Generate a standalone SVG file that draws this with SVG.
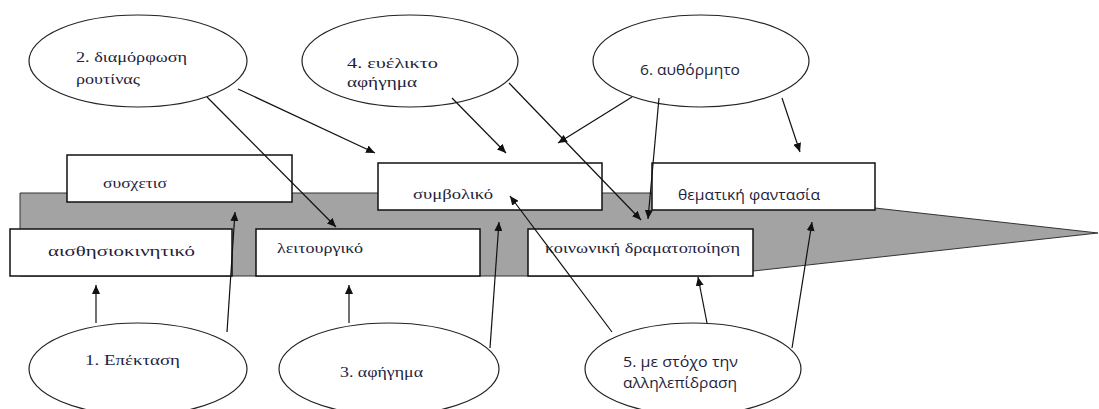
<svg xmlns="http://www.w3.org/2000/svg" width="1099" height="409" viewBox="0 0 1099 409">
<style>
.bg{fill:#fff}
.band{fill:#a3a3a3;stroke:#333;stroke-width:1}
.box{fill:#fff;stroke:#111;stroke-width:1.5}
.ell{fill:#fff;stroke:#222;stroke-width:1.2}
.t{font-family:"Liberation Serif","DejaVu Serif",serif;font-size:15px;fill:#1e1e3c}
.s{font-family:"Open Sans","Liberation Sans",sans-serif;font-size:14px;fill:#1e1e3c}
.c line{stroke:#111;stroke-width:1.2;marker-end:url(#ah)}
</style>
<defs>
<marker id="ah" markerUnits="userSpaceOnUse" markerWidth="10" markerHeight="8" refX="9" refY="4" orient="auto">
<path d="M0,0 L9,4 L0,8 z" fill="#111"/>
</marker>
</defs>
<rect class="bg" x="0" y="0" width="1099" height="409"/>
<polygon class="band" points="20,193 741,193 1098,233 708,276 20,276"/>

<g id="box-syschetis"><rect class="box" x="67" y="155" width="225" height="47"/><text class="t" x="103" y="188" textLength="64" lengthAdjust="spacingAndGlyphs">συσχετισ</text></g>
<g id="box-aisthisio"><rect class="box" x="10" y="229" width="222" height="47"/><text class="t" x="48" y="256" textLength="147" lengthAdjust="spacingAndGlyphs">αισθησιοκινητικό</text></g>
<g id="box-leitourgiko"><rect class="box" x="256" y="229" width="224" height="47"/><text class="t" x="277" y="253" textLength="86" lengthAdjust="spacingAndGlyphs">λειτουργικό</text></g>
<g id="box-symboliko"><rect class="box" x="378" y="163" width="224" height="47"/><text class="t" x="413" y="199" textLength="80" lengthAdjust="spacingAndGlyphs">συμβολικό</text></g>
<g id="box-koinoniki"><rect class="box" x="528" y="229" width="225" height="47"/><text class="t" x="545" y="253" textLength="195" lengthAdjust="spacingAndGlyphs">κοινωνική δραματοποίηση</text></g>
<g id="box-thematiki"><rect class="box" x="652" y="163" width="223" height="47"/><text class="s" x="678" y="200" textLength="142" lengthAdjust="spacingAndGlyphs">θεματική φαντασία</text></g>

<g id="ell-2"><ellipse class="ell" cx="138" cy="61" rx="109" ry="46"/><text class="t" x="76" y="62" textLength="111" lengthAdjust="spacingAndGlyphs">2. διαμόρφωση</text><text class="t" x="76" y="84" textLength="64" lengthAdjust="spacingAndGlyphs">ρουτίνας</text></g>
<g id="ell-4"><ellipse class="ell" cx="410" cy="61" rx="108" ry="46"/><text class="t" x="347" y="68" textLength="91" lengthAdjust="spacingAndGlyphs">4. ευέλικτο</text><text class="t" x="347" y="87" textLength="70" lengthAdjust="spacingAndGlyphs">αφήγημα</text></g>
<g id="ell-6"><ellipse class="ell" cx="701" cy="61" rx="108" ry="46"/><text class="s" x="640" y="75" textLength="100" lengthAdjust="spacingAndGlyphs">6. αυθόρμητο</text></g>
<g id="ell-1"><ellipse class="ell" cx="138" cy="369" rx="109" ry="46"/><text class="t" x="85" y="365" textLength="95" lengthAdjust="spacingAndGlyphs">1. Επέκταση</text></g>
<g id="ell-3"><ellipse class="ell" cx="389" cy="369" rx="110" ry="46"/><text class="t" x="340" y="377" textLength="83" lengthAdjust="spacingAndGlyphs">3. αφήγημα</text></g>
<g id="ell-5"><ellipse class="ell" cx="693" cy="369" rx="108" ry="46"/><text class="s" x="623" y="367" textLength="115" lengthAdjust="spacingAndGlyphs">5. με στόχο την</text><text class="s" x="623" y="388" textLength="114" lengthAdjust="spacingAndGlyphs">αλληλεπίδραση</text></g>

<g id="connectors" class="c">
<line x1="96" y1="323" x2="96" y2="285"/>
<line x1="227" y1="332" x2="235" y2="212"/>
<line x1="349" y1="323" x2="349" y2="285"/>
<line x1="490" y1="348" x2="499" y2="222"/>
<line x1="612" y1="332" x2="510" y2="196"/>
<line x1="707" y1="323" x2="698" y2="277"/>
<line x1="792" y1="348" x2="812" y2="222"/>
<line x1="238" y1="89" x2="375" y2="153"/>
<line x1="207" y1="97" x2="336" y2="227"/>
<line x1="452" y1="98" x2="506" y2="153"/>
<line x1="509" y1="83" x2="641" y2="220"/>
<line x1="632" y1="97" x2="558" y2="143"/>
<line x1="659" y1="98" x2="648" y2="219"/>
<line x1="782" y1="98" x2="800" y2="152"/>
</g>
</svg>
